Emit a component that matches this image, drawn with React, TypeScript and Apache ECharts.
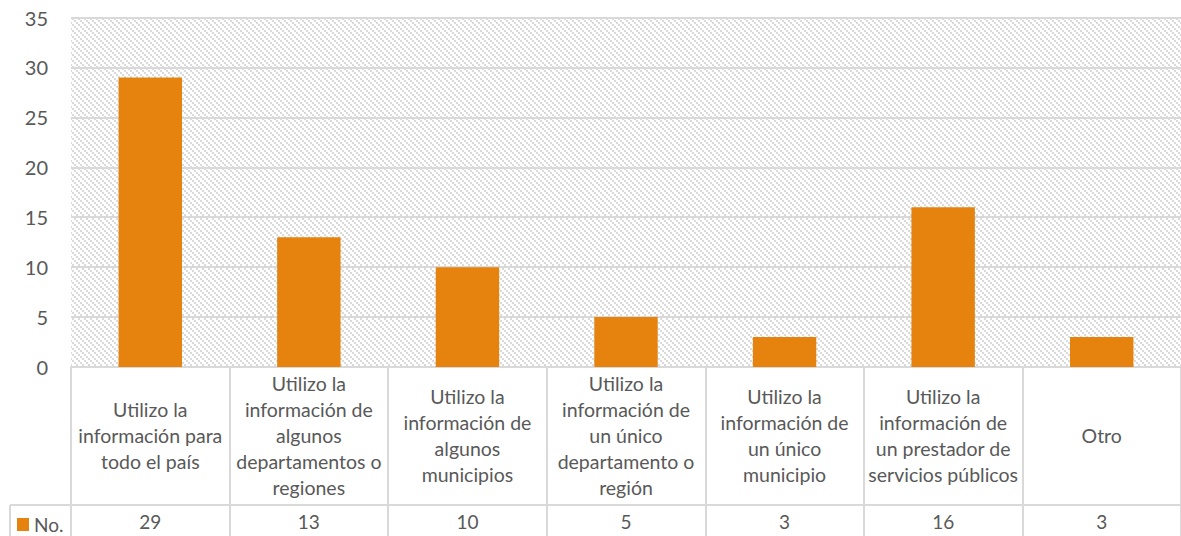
import React, { useEffect, useRef } from "react";
import * as echarts from "echarts";

const categories: string[] = [
  "Utilizo la\ninformación para\ntodo el país",
  "Utilizo la\ninformación de\nalgunos\ndepartamentos o\nregiones",
  "Utilizo la\ninformación de\nalgunos\nmunicipios",
  "Utilizo la\ninformación de\nun único\ndepartamento o\nregión",
  "Utilizo la\ninformación de\nun único\nmunicipio",
  "Utilizo la\ninformación de\nun prestador de\nservicios públicos",
  "Otro",
];
const values: number[] = [29, 13, 10, 5, 3, 16, 3];
const seriesName = "No.";
const yMin = 0;
const yMax = 35;
const yStep = 5;

const FONT = "Lato, 'Open Sans', sans-serif";
const TEXT = "#595959";
const LINE = "#d9d9d9";
const BAR = "#E6830F";

function makeHatch(): HTMLCanvasElement {
  const c = document.createElement("canvas");
  c.width = 6;
  c.height = 6;
  const ctx = c.getContext("2d")!;
  ctx.fillStyle = "#ffffff";
  ctx.fillRect(0, 0, 6, 6);
  ctx.fillStyle = "#dadada";
  for (let i = 0; i < 6; i += 2) {
    ctx.fillRect(i, i, 2, 2);
  }
  return c;
}

export default function App() {
  const ref = useRef<HTMLDivElement>(null);
  useEffect(() => {
    if (!ref.current) return;
    const chart = echarts.init(ref.current, null, { renderer: "svg" });
    const hatch = makeHatch();
    chart.setOption({
      animation: false,
      grid: {
        left: 71,
        right: 0,
        top: 17.5,
        bottom: 169,
        show: true,
        borderWidth: 0,
        backgroundColor: { image: hatch, repeat: "repeat", imageWidth: 6, imageHeight: 6 } as any,
      },
      legend: {
        left: 17,
        top: 515,
        padding: 0,
        itemWidth: 12,
        itemHeight: 13,
        icon: "rect",
        textStyle: { fontFamily: FONT, fontSize: 19, color: TEXT },
        data: [seriesName],
      },
      xAxis: [
        {
          type: "category",
          data: categories,
          position: "bottom",
          axisLine: { show: true, lineStyle: { color: LINE, width: 2 } },
          axisTick: { show: true, length: 169, lineStyle: { color: LINE, width: 2 } },
          axisLabel: {
            interval: 0,
            margin: 68,
            verticalAlign: "middle",
            align: "center",
            fontFamily: FONT,
            fontSize: 19.5,
            lineHeight: 26,
            color: TEXT,
          },
        },
        {
          type: "category",
          data: values.map(String),
          position: "bottom",
          offset: 0,
          axisLine: { show: false },
          axisTick: { show: false },
          axisLabel: {
            interval: 0,
            margin: 154,
            verticalAlign: "middle",
            fontFamily: FONT,
            fontSize: 19,
            color: TEXT,
          },
        },
      ],
      yAxis: {
        type: "value",
        min: yMin,
        max: yMax,
        interval: yStep,
        axisLine: { show: false },
        axisTick: { show: false },
        axisLabel: { margin: 23, fontFamily: FONT, fontSize: 20, color: TEXT },
        splitLine: { lineStyle: { color: LINE, width: 2 } },
      },
      graphic: [
        { type: "line", shape: { x1: 10, y1: 505, x2: 1181, y2: 505 }, style: { stroke: LINE, lineWidth: 2 } },
        { type: "line", shape: { x1: 10, y1: 505, x2: 10, y2: 536 }, style: { stroke: LINE, lineWidth: 2 } },
      ],
      series: [
        {
          name: seriesName,
          type: "bar",
          data: values,
          barWidth: "40%",
          itemStyle: { color: BAR },
        },
      ],
    });
    return () => chart.dispose();
  }, []);
  return (
    <div
      ref={ref}
      style={{ position: "fixed", left: 0, top: 0, width: 1181, height: 536, background: "#fff" }}
    />
  );
}
